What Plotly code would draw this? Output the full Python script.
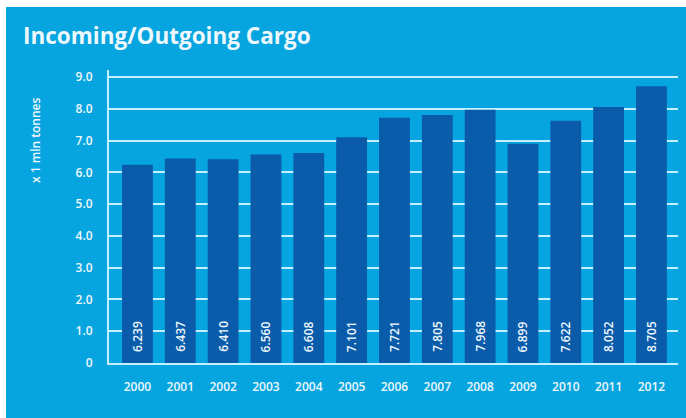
import plotly.graph_objects as go

# Annual cargo throughput, million tonnes
years = ["2000", "2001", "2002", "2003", "2004", "2005", "2006",
         "2007", "2008", "2009", "2010", "2011", "2012"]
cargo = [6.239, 6.437, 6.410, 6.560, 6.608, 7.101, 7.721,
         7.805, 7.968, 6.899, 7.622, 8.052, 8.705]
y_ticks = [0, 1, 2, 3, 4, 5, 6, 7, 8, 9]
y_tick_text = ["0", "1.0", "2.0", "3.0", "4.0", "5.0", "6.0", "7.0", "8.0", "9.0"]

W, H = 686, 418
ML, MR, MT, MB = 109, 8, 70, 55

BG = "#07a5df"
BAR = "#0a5cab"
GRID = "#c4efff"
TXT = "#eef8fc"
FONT = "Open Sans"

fig = go.Figure(go.Bar(
    x=years,
    y=cargo,
    width=0.72,
    marker=dict(color=BAR, line=dict(width=0)),
    hoverinfo="skip",
))

pw = W - ML - MR
ph = H - MT - MB

def px_x(px):
    return (px - ML) / pw

def px_y(py):
    return (H - MB - py) / ph

shapes = [
    # white frame strips at the top and left edge
    dict(type="rect", xref="paper", yref="paper",
         x0=px_x(0), x1=px_x(W), y0=px_y(7), y1=px_y(0),
         fillcolor="white", line=dict(width=0), layer="above"),
    dict(type="rect", xref="paper", yref="paper",
         x0=px_x(0), x1=px_x(6), y0=px_y(H), y1=px_y(0),
         fillcolor="white", line=dict(width=0), layer="above"),
]

annotations = [
    dict(text="<b>Incoming/Outgoing Cargo</b>", xref="paper", yref="paper",
         x=px_x(21), y=px_y(35), xanchor="left", yanchor="middle",
         showarrow=False, font=dict(family=FONT, size=22.5, color=TXT)),
    dict(text="x 1 mln tonnes", xref="paper", yref="paper",
         x=px_x(35), y=px_y(141), xanchor="center", yanchor="middle",
         textangle=-90, showarrow=False,
         font=dict(family=FONT, size=12, color=TXT, weight=600)),
]

# value labels written upward from the foot of each bar
# (category axis: position by index)
for i, v in enumerate(cargo):
    annotations.append(dict(
        text=f"{v:.3f}", x=i, y=0, xref="x", yref="y",
        xanchor="center", yanchor="bottom", yshift=9,
        textangle=-90, showarrow=False,
        font=dict(family=FONT, size=12, color=TXT, weight=600),
    ))

fig.update_layout(
    width=W, height=H,
    margin=dict(l=ML, r=MR, t=MT, b=MB, pad=0),
    paper_bgcolor=BG, plot_bgcolor=BG,
    showlegend=False,
    shapes=shapes,
    annotations=annotations,
    xaxis=dict(
        type="category",
        range=[-0.665, 12.62],
        showgrid=False, zeroline=False,
        showline=True, linecolor=GRID, linewidth=2,
        ticks="", ticklabelstandoff=12,
        tickfont=dict(family=FONT, size=12, color=TXT, weight=600),
        fixedrange=True,
    ),
    yaxis=dict(
        range=[0, 9.22],
        tickvals=y_ticks, ticktext=y_tick_text,
        showgrid=True, gridcolor=GRID, gridwidth=2,
        zeroline=False,
        showline=True, linecolor=GRID, linewidth=2,
        ticks="", ticklabelstandoff=12,
        tickfont=dict(family=FONT, size=12, color=TXT, weight=600),
        fixedrange=True,
    ),
)

fig.write_html("out.html")
